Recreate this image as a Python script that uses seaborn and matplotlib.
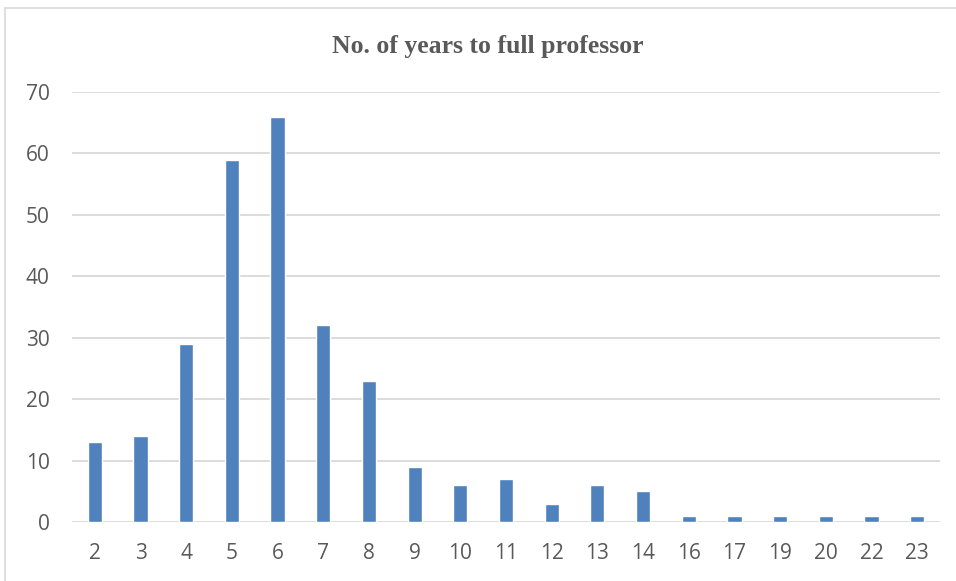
import matplotlib
matplotlib.use("Agg")
import matplotlib.pyplot as plt
from matplotlib.lines import Line2D
import seaborn as sns
import pandas as pd

# Years to full professor and number of faculty
years = ["2", "3", "4", "5", "6", "7", "8", "9", "10", "11", "12", "13", "14",
         "16", "17", "19", "20", "22", "23"]
counts = [13, 14, 29, 59, 66, 32, 23, 9, 6, 7, 3, 6, 5, 1, 1, 1, 1, 1, 1]
y_ticks = [0, 10, 20, 30, 40, 50, 60, 70]
title = "No. of years to full professor"

df = pd.DataFrame({"years": years, "count": counts})

sns.set_style("white")
plt.rcParams["font.family"] = ["Open Sans", "DejaVu Sans"]

fig = plt.figure(figsize=(9.56, 5.81), dpi=100)
ax = fig.add_axes([72 / 956, 1 - 522 / 581, 868 / 956, 430 / 581])

sns.barplot(data=df, x="years", y="count", order=years, color="#4F81BD",
            saturation=1, width=0.31, ax=ax, zorder=3)

ax.set_ylim(0, 70)
ax.set_xlim(-0.5, len(years) - 0.5)
ax.set_yticks(y_ticks)
ax.yaxis.grid(True, color="#D9D9D9", linewidth=1.3, zorder=0)
ax.set_axisbelow(True)
for s in ax.spines.values():
    s.set_visible(False)
ax.tick_params(axis="both", length=0, labelsize=15, labelcolor="#595959")
ax.tick_params(axis="y", pad=16)
ax.tick_params(axis="x", pad=15)
ax.set_xlabel("")
ax.set_ylabel("")

fig.text(488 / 956, 1 - 46 / 581, title, ha="center", va="center",
         fontsize=18.5, fontweight="bold", color="#595959",
         family=["Liberation Serif", "DejaVu Serif"])

# Chart frame (top and left edges)
frame_kw = dict(transform=fig.transFigure, color="#D9D9D9", linewidth=1.2)
fig.lines.append(Line2D([5 / 956, 1.0], [1 - 8 / 581, 1 - 8 / 581], **frame_kw))
fig.lines.append(Line2D([5 / 956, 5 / 956], [0.0, 1 - 8 / 581], **frame_kw))

fig.savefig("out.png", dpi=100)
